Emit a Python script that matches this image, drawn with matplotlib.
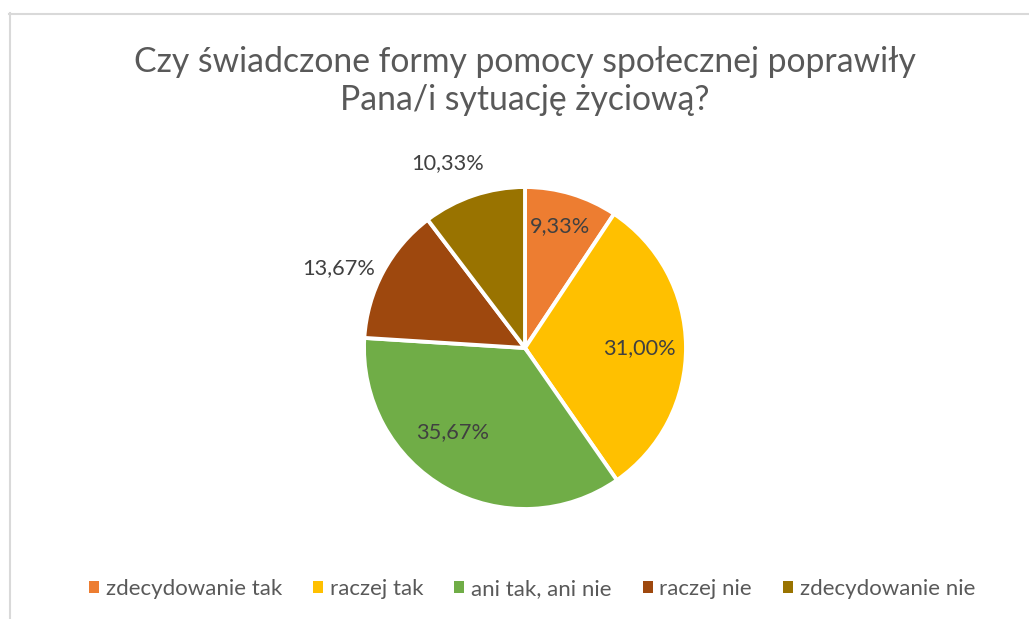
import numpy as np
import matplotlib.pyplot as plt
from matplotlib.patches import Patch
from matplotlib.lines import Line2D

plt.rcParams['font.family'] = ['Lato', 'DejaVu Sans']

# Data
categories = ['zdecydowanie tak', 'raczej tak', 'ani tak, ani nie', 'raczej nie', 'zdecydowanie nie']
shares = [9.33, 31.00, 35.67, 13.67, 10.33]
colors = ['#ED7D31', '#FFC000', '#70AD47', '#9E480E', '#997300']

# label placement (radius, angle tweak in degrees) - Excel "best fit" look
label_r = [0.79, 0.71, 0.69, 1.26, 1.245]
label_dang = [1.0, -0.6, -11.6, 5.0, 4.0]

W, H = 1029, 619
fig = plt.figure(figsize=(W / 100, H / 100), dpi=100)

# chart area border (cropped at right/bottom)
fig.add_artist(Line2D([9.5 / W, 9.5 / W], [0, 1 - 13 / H], color='#d9d9d9', lw=1.5))
fig.add_artist(Line2D([9 / W, 1], [1 - 13.5 / H, 1 - 13.5 / H], color='#d9d9d9', lw=1.5))

cx, cy, r = 525, 348, 161
ax = fig.add_axes([(cx - r) / W, (H - cy - r) / H, 2 * r / W, 2 * r / H])
wedges, _ = ax.pie(shares, colors=colors, startangle=90, counterclock=False,
                   wedgeprops=dict(edgecolor='white', linewidth=2.8))
ax.set_xlim(-1, 1)
ax.set_ylim(-1, 1)
ax.set_aspect('equal')
ax.axis('off')

for w, v, lr, da in zip(wedges, shares, label_r, label_dang):
    ang = np.deg2rad((w.theta1 + w.theta2) / 2 + da)
    ax.text(lr * np.cos(ang), lr * np.sin(ang), f'{v:.2f}%'.replace('.', ','),
            ha='center', va='center', fontsize=15.7, color='#404040', clip_on=False)

fig.text(525 / W, 1 - 81 / H, 'Czy świadczone formy pomocy społecznej poprawiły\nPana/i sytuację życiową?',
         ha='center', va='center', fontsize=24.3, color='#595959', linespacing=1.25)

handles = [Patch(facecolor=c, edgecolor='none') for c in colors]
fig.legend(handles, categories, loc='center', bbox_to_anchor=(532 / W, 1 - 589 / H), ncol=5,
           frameon=False, fontsize=16, labelcolor='#595959', handlelength=0.45, handleheight=0.45,
           handletextpad=0.3, columnspacing=1.4)

fig.savefig('out.png', dpi=100)
